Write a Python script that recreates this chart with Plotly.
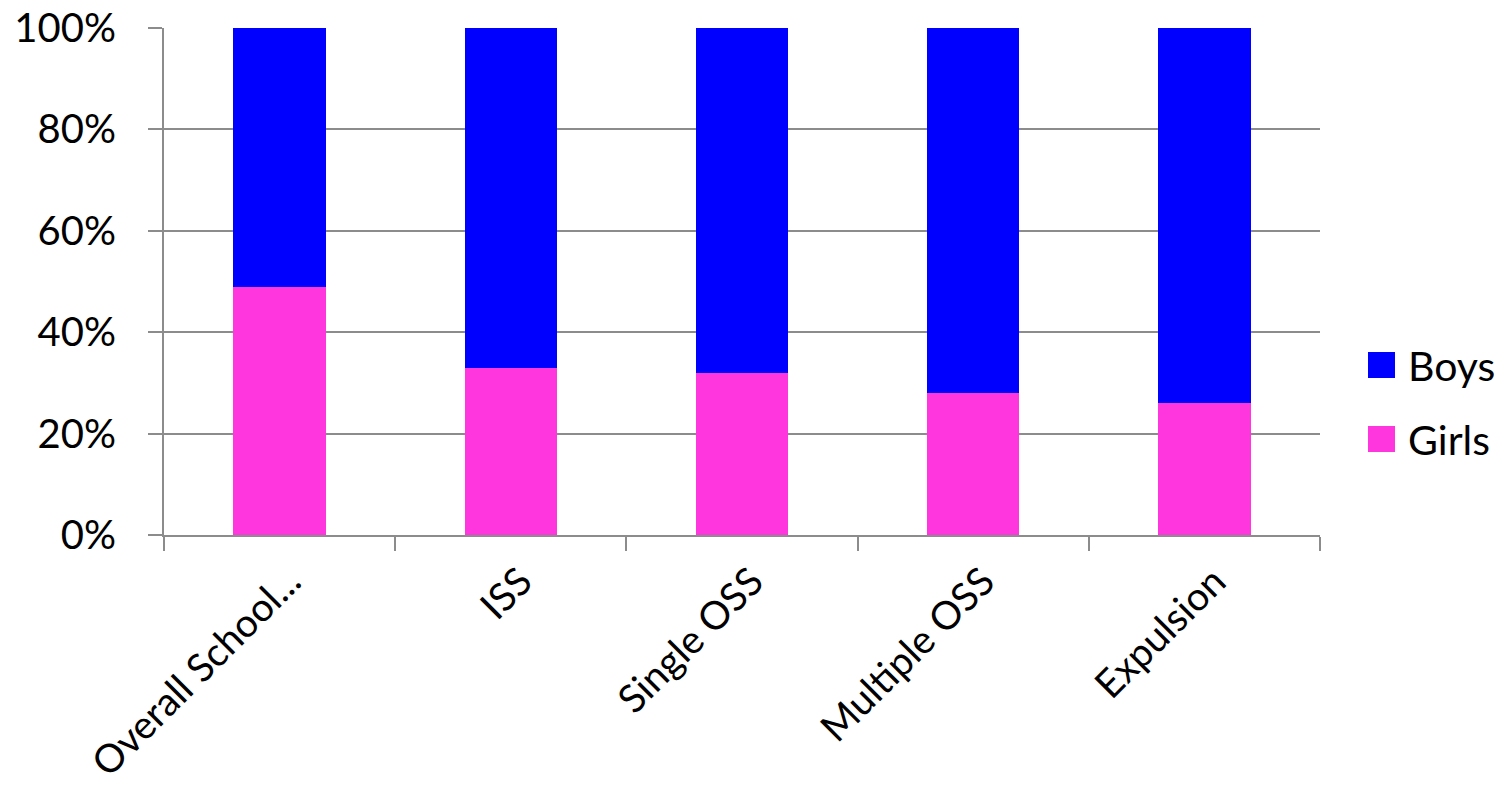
import plotly.graph_objects as go

categories = ["Overall School...", "ISS", "Single OSS", "Multiple OSS", "Expulsion"]
girls = [0.49, 0.33, 0.32, 0.28, 0.26]
boys = [0.51, 0.67, 0.68, 0.72, 0.74]
series_names = ["Boys", "Girls"]
series_colors = {"Boys": "#0000FF", "Girls": "#FF35DD"}

FONT = "Lato"
GRID = "#8C8C8C"

fig = go.Figure()
fig.add_trace(go.Bar(x=categories, y=girls, name="Girls",
                     marker=dict(color=series_colors["Girls"], line=dict(width=0)),
                     showlegend=False))
fig.add_trace(go.Bar(x=categories, y=boys, name="Boys",
                     marker=dict(color=series_colors["Boys"], line=dict(width=0)),
                     showlegend=False))

W, H = 1503, 792
L, R, T, B = 164, 1320, 28, 535

def px_x(px):
    return (px - L) / (R - L)

def px_y(py):
    return (B - py) / (B - T)

# custom legend (large square swatches like the original)
legend_items = [("Boys", 352, 378), ("Girls", 426, 452)]
shapes = []
annotations = []
for name, top, bot in legend_items:
    shapes.append(dict(type="rect", xref="paper", yref="paper",
                       x0=px_x(1368), x1=px_x(1395), y0=px_y(bot), y1=px_y(top),
                       fillcolor=series_colors[name], line=dict(width=0)))
    annotations.append(dict(text=name, xref="paper", yref="paper",
                            x=px_x(1406), y=px_y((top + bot) / 2),
                            xanchor="left", yanchor="middle", showarrow=False,
                            font=dict(family=FONT, size=41, color="black")))

fig.update_layout(
    barmode="stack",
    bargap=0.6,
    width=W, height=H,
    margin=dict(l=L, r=W - R, t=T, b=H - B, pad=0, autoexpand=False),
    paper_bgcolor="white",
    plot_bgcolor="white",
    font=dict(family=FONT, size=40, color="black"),
    shapes=shapes,
    annotations=annotations,
    showlegend=False,
)
fig.update_xaxes(
    type="category",
    automargin=False,
    tickson="boundaries",
    ticks="outside", ticklen=14, tickwidth=2, tickcolor=GRID,
    showgrid=False,
    showline=True, linecolor=GRID, linewidth=2,
    tickangle=-45,
    tickfont=dict(family=FONT, size=39, color="black"),
    ticklabelstandoff=6,
    ticklabelshift=10,
)
fig.update_yaxes(
    automargin=False,
    range=[0, 1], dtick=0.2, tickformat=".0%",
    ticks="outside", ticklen=14, tickwidth=2, tickcolor=GRID,
    showgrid=True, gridcolor=GRID, gridwidth=2,
    showline=True, linecolor=GRID, linewidth=2,
    zeroline=False,
    tickfont=dict(family=FONT, size=40, color="black"),
    ticklabelstandoff=24,
)

fig.write_html("out.html")
